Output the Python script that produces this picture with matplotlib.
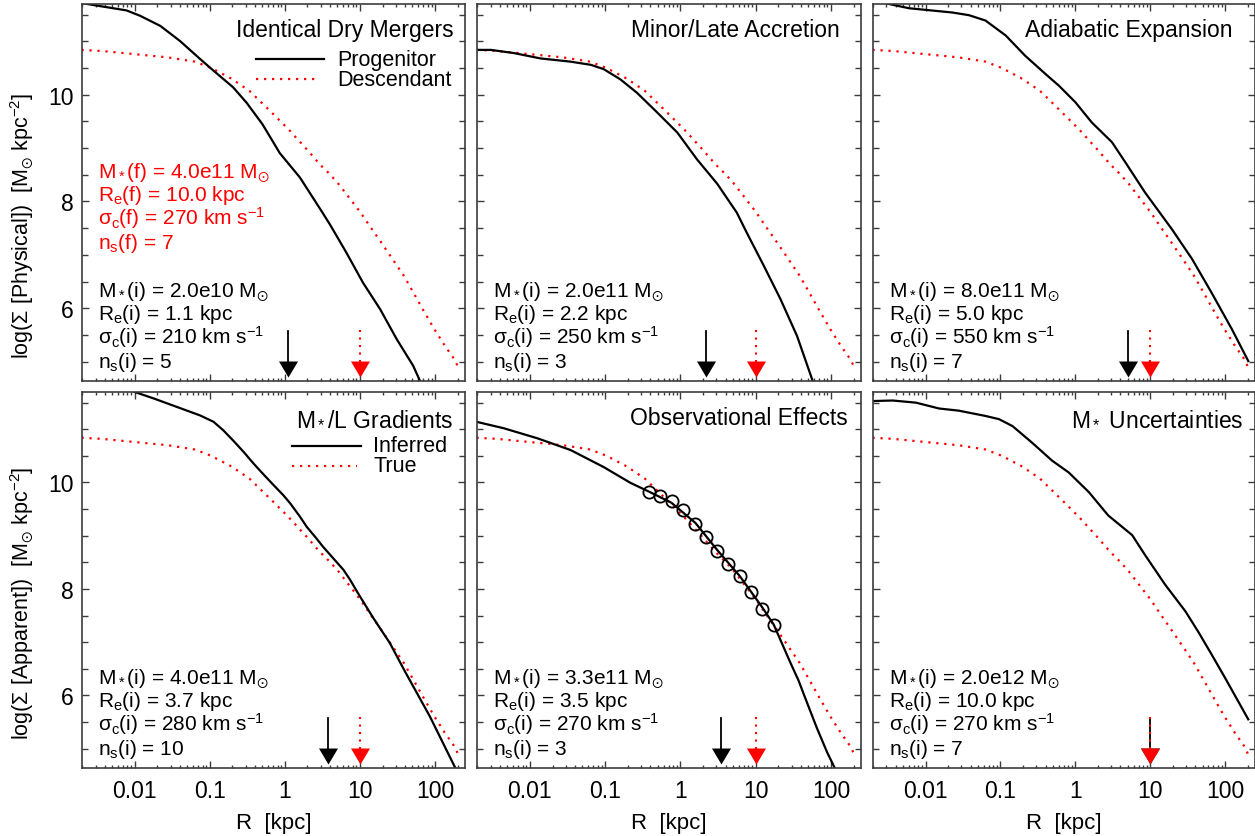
import numpy as np
import matplotlib
matplotlib.use("Agg")
import matplotlib.pyplot as plt
from matplotlib.ticker import LogLocator, MultipleLocator, FuncFormatter, NullFormatter

plt.rcParams['font.family'] = ['Liberation Sans', 'DejaVu Sans']
plt.rcParams['mathtext.fontset'] = 'custom'
plt.rcParams['mathtext.rm'] = 'Liberation Sans'
plt.rcParams['mathtext.it'] = 'Liberation Sans:italic'
plt.rcParams['mathtext.bf'] = 'Liberation Sans:bold'
plt.rcParams['mathtext.sf'] = 'Liberation Sans'
plt.rcParams['mathtext.fallback'] = 'stixsans'

# ---------------- data (log10 R [kpc], log10 Sigma) ----------------
# descendant / true profile (same in every panel)
desc_logR = [-2.71, -2.44, -2.00, -1.56, -1.20, -0.98, -0.71, -0.47, -0.20, 0.05, 0.29, 0.47,
             0.60, 0.72, 0.84, 1.00, 1.16, 1.27, 1.42, 1.58, 1.71, 1.85, 1.99, 2.13, 2.27, 2.32]
desc_logS = [10.84, 10.82, 10.76, 10.70, 10.62, 10.50, 10.30, 10.07, 9.70, 9.35, 8.98, 8.69,
             8.51, 8.32, 8.10, 7.81, 7.48, 7.26, 6.95, 6.62, 6.30, 5.95, 5.61, 5.30, 5.02, 4.85]

# panel 1: progenitor (identical dry mergers)
p1_logR = [-2.72, -2.46, -2.11, -1.93, -1.66, -1.40, -1.13, -0.95, -0.69, -0.51, -0.30, -0.18,
           -0.07, 0.20, 0.47, 0.60, 0.82, 1.04, 1.27, 1.49, 1.71, 1.79, 1.85]
p1_logS = [11.72, 11.66, 11.58, 11.48, 11.29, 11.01, 10.67, 10.45, 10.14, 9.85, 9.45, 9.17,
           8.91, 8.45, 7.86, 7.57, 7.04, 6.48, 5.98, 5.42, 4.92, 4.67, 4.50]
# panel 2: minor / late accretion
p2_logR = [-2.71, -2.52, -2.21, -1.86, -1.46, -1.19, -1.02, -0.80, -0.58, -0.31, -0.04, 0.22,
           0.49, 0.75, 0.88, 1.11, 1.33, 1.55, 1.75, 1.80]
p2_logS = [10.84, 10.84, 10.78, 10.68, 10.62, 10.56, 10.48, 10.29, 10.04, 9.67, 9.29, 8.79,
           8.33, 7.79, 7.42, 6.79, 6.17, 5.48, 4.67, 4.45]
# panel 3: adiabatic expansion
p3_logR = [-2.62, -2.49, -2.22, -2.00, -1.64, -1.42, -1.20, -0.93, -0.67, -0.40, -0.22, 0.00,
           0.22, 0.49, 0.67, 0.93, 1.29, 1.56, 1.82, 2.09, 2.31]
p3_logS = [11.76, 11.70, 11.62, 11.59, 11.54, 11.49, 11.39, 11.11, 10.73, 10.39, 10.17, 9.86,
           9.48, 9.11, 8.73, 8.17, 7.48, 6.92, 6.29, 5.61, 5.01]
# panel 4: M*/L gradients (inferred)
p4_logR = [-2.10, -2.00, -1.75, -1.44, -1.13, -0.95, -0.82, -0.69, -0.55, -0.42, -0.29, -0.15,
           -0.02, 0.07, 0.20, 0.29, 0.42, 0.51, 0.645, 0.78, 0.87, 0.97, 1.18, 1.40, 1.60,
           1.71, 1.93, 2.27]
p4_logS = [11.76, 11.70, 11.58, 11.42, 11.26, 11.14, 10.98, 10.79, 10.575, 10.36, 10.16, 9.95,
           9.76, 9.61, 9.36, 9.17, 8.95, 8.79, 8.575, 8.36, 8.17, 7.93, 7.45, 6.98, 6.45,
           6.17, 5.61, 4.64]
# panel 5: observational effects (fit)
p5_logR = [-2.71, -2.35, -1.90, -1.46, -1.02, -0.66, -0.42, -0.12, 0.20, 0.49, 0.79, 1.09,
           1.24, 1.46, 1.57, 1.64, 1.81, 1.95, 2.06]
p5_logS = [11.14, 11.02, 10.83, 10.61, 10.29, 9.99, 9.83, 9.62, 9.24, 8.73, 8.24, 7.65,
           7.33, 6.62, 6.28, 6.02, 5.40, 4.93, 4.61]
# panel 5: observed points
obs_logR = [-0.42, -0.27, -0.115, 0.035, 0.20, 0.34, 0.49, 0.63, 0.79, 0.94, 1.09, 1.24]
obs_logS = [9.82, 9.75, 9.66, 9.475, 9.22, 8.97, 8.71, 8.47, 8.24, 7.94, 7.63, 7.33]
# panel 6: M* uncertainties
p6_logR = [-2.71, -2.44, -2.13, -1.82, -1.56, -1.20, -1.02, -0.84, -0.58, -0.31, -0.09, 0.18,
           0.44, 0.76, 0.93, 1.20, 1.47, 1.64, 1.82, 2.00, 2.31]
p6_logS = [11.53, 11.54, 11.50, 11.39, 11.35, 11.25, 11.19, 11.06, 10.75, 10.41, 10.19, 9.82,
           9.38, 9.01, 8.64, 8.08, 7.58, 7.20, 6.77, 6.33, 5.55]

prog_logR = [p1_logR, p2_logR, p3_logR, p4_logR, p5_logR, p6_logR]
prog_logS = [p1_logS, p2_logS, p3_logS, p4_logS, p5_logS, p6_logS]

titles = ["Identical Dry Mergers", "Minor/Late Accretion", "Adiabatic Expansion",
          r"M$_*$/L Gradients", "Observational Effects", r"M$_*$ Uncertainties"]
mstar_i = ["2.0e10", "2.0e11", "8.0e11", "4.0e11", "3.3e11", "2.0e12"]
re_i = [1.1, 2.2, 5.0, 3.7, 3.5, 10.0]
sigma_i = [210, 250, 550, 280, 270, 270]
n_i = [5, 3, 7, 10, 3, 7]
mstar_f = "4.0e11"
re_f = 10.0
sigma_f = 270
n_f = 7

SUN = r"$_{\odot}$"
ylabels = ["log(Σ [Physical])  [M" + SUN + " kpc$^{-2}$]",
           "log(Σ [Apparent])  [M" + SUN + " kpc$^{-2}$]"]
legend_labels = [("Progenitor", "Descendant"), ("Inferred", "True")]
xtick_labels = {0.01: "0.01", 0.1: "0.1", 1: "1", 10: "10", 100: "100"}

# ---------------- layout ----------------
W, H = 1255, 837
fig = plt.figure(figsize=(W / 100, H / 100), dpi=100)
col_left = [82, 477, 873]
col_w = [383, 384, 382]
row_top = [5, 393]
row_h = [377, 376]

FRAME = '#3c3c3c'
DOT = (0, (1, 2.6))
head = [(-1, 0.84), (1, 0.84), (0, -0.84), (-1, 0.84)]
title_x = [0.969, 0.945, 0.942, 0.969, 0.965, 0.971]
ylabel_y = [0.415, 0.44]

def fmt_x(v, pos):
    for k, s in xtick_labels.items():
        if abs(v - k) / k < 1e-6:
            return s
    return ""

for i in range(6):
    r, c = divmod(i, 3)
    l = col_left[c]; w = col_w[c]; t = row_top[r]; h = row_h[r]
    ax = fig.add_axes([l / W, 1 - (t + h) / H, w / W, h / H])
    ax.set_xscale('log')
    ax.set_xlim(10 ** -2.703, 10 ** 2.4)
    ax.set_ylim(4.636, 11.70)

    # descendant / true
    ax.plot(10 ** np.array(desc_logR), desc_logS, color='red', ls=DOT, lw=1.6)
    # progenitor / inferred
    ax.plot(10 ** np.array(prog_logR[i]), prog_logS[i], color='black', lw=1.6)
    if i == 4:
        ax.plot(10 ** np.array(obs_logR), obs_logS, ls='none', marker='o', ms=8.8,
                mfc='none', mec='black', mew=1.3)

    # arrows marking effective radii
    ax.plot([re_i[i], re_i[i]], [5.57, 5.0], color='black', lw=1.3)
    ax.plot([re_i[i]], [4.855], marker=head, ms=13.7, color='black', mew=0, ls='none')
    ax.plot([re_f, re_f], [5.60, 5.0], color='red', ls=DOT, lw=1.5)
    ax.plot([re_f], [4.855], marker=head, ms=13.7, color='red', mew=0, ls='none')

    # title
    ax.text(title_x[i], 1 - 32.3 / h, titles[i], transform=ax.transAxes,
            ha='right', va='baseline', fontsize=16.5)

    # annotations
    dy = 23.8 / h
    y0 = 0.038
    lines_i = [rf"M$_*$(i) = {mstar_i[i]} M" + SUN,
               rf"R$_\mathrm{{e}}$(i) = {re_i[i]:.1f} kpc",
               rf"σ$_\mathrm{{c}}$(i) = {sigma_i[i]} km s$^{{-1}}$",
               rf"n$_\mathrm{{s}}$(i) = {n_i[i]}"]
    for k, s in enumerate(lines_i):
        ax.text(0.042, y0 + (3 - k) * dy, s, transform=ax.transAxes,
                ha='left', va='baseline', fontsize=15, color='black')
    if i == 0:
        lines_f = [rf"M$_*$(f) = {mstar_f} M" + SUN,
                   rf"R$_\mathrm{{e}}$(f) = {re_f:.1f} kpc",
                   rf"σ$_\mathrm{{c}}$(f) = {sigma_f} km s$^{{-1}}$",
                   rf"n$_\mathrm{{s}}$(f) = {n_f}"]
        for k, s in enumerate(lines_f):
            ax.text(0.042, y0 + (8 - k) * dy, s, transform=ax.transAxes,
                    ha='left', va='baseline', fontsize=15, color='red')

    # legends
    if i in (0, 3):
        lab1, lab2 = legend_labels[0 if i == 0 else 1]
        if i == 0:
            x1, x2, x2b, xt = 0.454, 0.632, 0.622, 0.666
            yl1, yl2, yt1, yt2 = 0.853, 0.800, 0.839, 0.786
        else:
            x1, x2, x2b, xt = 0.548, 0.728, 0.718, 0.760
            yl1, yl2, yt1, yt2 = 0.856, 0.802, 0.843, 0.791
        ax.plot([x1, x2], [yl1, yl1], transform=ax.transAxes, color='black', lw=1.6)
        ax.plot([x1, x2b], [yl2, yl2], transform=ax.transAxes, color='red', ls=DOT, lw=1.6)
        ax.text(xt, yt1, lab1, transform=ax.transAxes, ha='left', va='baseline', fontsize=15.5)
        ax.text(xt, yt2, lab2, transform=ax.transAxes, ha='left', va='baseline', fontsize=15.5)

    # ticks
    ax.xaxis.set_major_locator(LogLocator(base=10, numticks=20))
    ax.xaxis.set_minor_locator(LogLocator(base=10, subs=np.arange(2, 10), numticks=200))
    ax.xaxis.set_major_formatter(FuncFormatter(fmt_x))
    ax.xaxis.set_minor_formatter(NullFormatter())
    ax.yaxis.set_major_locator(MultipleLocator(2))
    ax.yaxis.set_minor_locator(MultipleLocator(0.5))
    ax.tick_params(which='both', direction='in', top=True, right=True,
                   color=FRAME, width=1.0, labelsize=16.5)
    ax.tick_params(which='major', length=5.0)
    ax.tick_params(axis='x', which='minor', length=2.3)
    ax.tick_params(axis='y', which='minor', length=4.3)
    ax.tick_params(axis='x', pad=8)
    ax.tick_params(axis='y', pad=6)
    for sp in ax.spines.values():
        sp.set_color(FRAME)
        sp.set_linewidth(1.2)
    if c != 0:
        ax.tick_params(labelleft=False)
    else:
        ax.set_ylabel(ylabels[r], fontsize=15.5)
        ax.yaxis.set_label_coords(-0.12, ylabel_y[r])
    if r != 1:
        ax.tick_params(labelbottom=False)
    else:
        ax.set_xlabel("R  [kpc]", fontsize=16)
        ax.xaxis.set_label_coords(0.5, -0.118)

fig.savefig("out.png", dpi=100)
